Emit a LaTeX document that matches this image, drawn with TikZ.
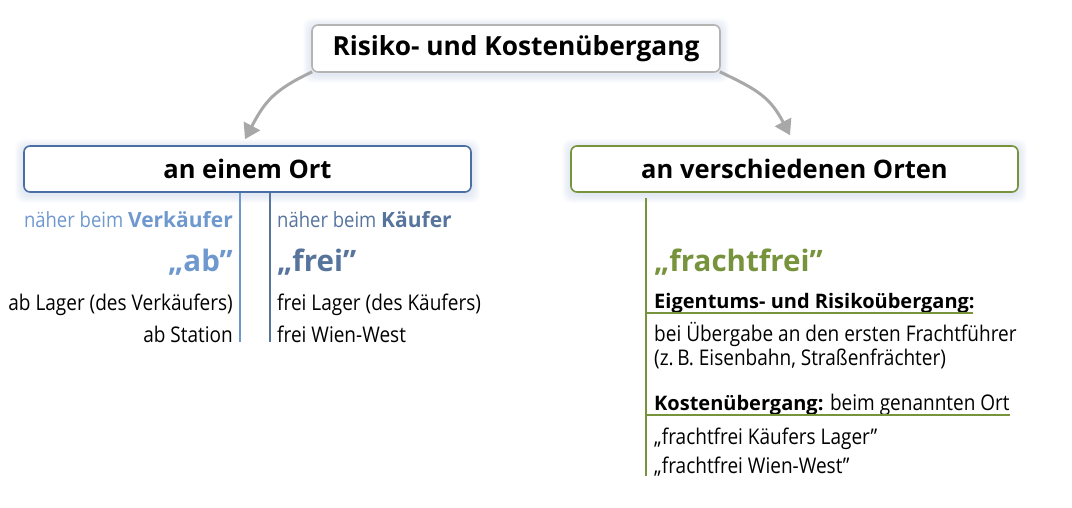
\documentclass[tikz,border=0pt]{standalone}
\usepackage{fontspec}
\setmainfont{Open Sans}[UprightFeatures={FakeStretch=0.88}]
\usetikzlibrary{arrows.meta,backgrounds}
\definecolor{lb}{HTML}{6F98CF}
\definecolor{sb}{HTML}{56749C}
\definecolor{bb}{HTML}{4A6FA5}
\definecolor{gr}{HTML}{77933C}
\definecolor{ag}{HTML}{A8A8A8}
\definecolor{tg}{HTML}{B4B4B4}
\definecolor{shc}{HTML}{9DB3D6}
\newcommand{\glow}[1]{%
  \begin{scope}[on background layer]
    \foreach \k in {1,...,8}{%
      \fill[shc, opacity=0.04, rounded corners=8pt]
        ([xshift=-\k pt, yshift=-\k pt-2pt]#1.south west) rectangle
        ([xshift=\k pt, yshift=\k pt-2pt]#1.north east);}
  \end{scope}}
\begin{document}
\begin{tikzpicture}[x=1pt,y=-1pt,
  box/.style={draw, line width=1.6pt, rounded corners=6pt, fill=white, inner sep=0pt},
  boxtxt/.style={font=\fontsize{25.5}{30}\selectfont\bfseries},
  txt/.style={inner sep=0pt, font=\fontsize{21.6}{25}\selectfont},
  btxt/.style={inner sep=0pt, font=\fontsize{20}{25}\selectfont\bfseries},
  head/.style={inner sep=0pt, font=\fontsize{21}{25}\selectfont},
  big/.style={inner sep=0pt, font=\fontsize{29.5}{34}\selectfont\bfseries},
  arr/.style={draw=ag, line width=3pt, -{Triangle[length=15pt,width=18pt]}},
  ln/.style={line width=2pt}
]
\useasboundingbox (0,0) rectangle (1072,508);
% boxes
\node[box, draw=tg, minimum width=408pt, minimum height=47pt, font=\fontsize{26.3}{30}\selectfont\bfseries] (top) at (516,48.5) {Risiko- und Kostenübergang};
\node[box, draw=bb, minimum width=447pt, minimum height=46pt, boxtxt] (left) at (247.5,169) {an einem Ort};
\node[box, draw=gr, minimum width=447pt, minimum height=46pt, boxtxt] (right) at (794.5,169) {an verschiedenen Orten};
\glow{top}
\glow{left}
\glow{right}
% arrows
\draw[arr] ([xshift=1pt,yshift=1pt]top.south west) .. controls +(-38,18) and +(20,-38) .. ([xshift=-2.5pt,yshift=6pt]left.north);
\draw[arr] ([xshift=-1pt,yshift=1pt]top.south east) .. controls +(38,18) and +(-20,-38) .. ([xshift=-4.5pt,yshift=10pt]right.north);
% left column lines
\coordinate (l1) at (240,342);
\coordinate (l2) at (270,342);
\draw[ln, draw=lb] (left.south -| l1) -- (l1);
\draw[ln, draw=sb] (left.south -| l2) -- (l2);
% left column text
\node[head, anchor=base east, text=lb] (nv) at (233,228) {näher beim \textbf{Verkäufer}};
\node[big, anchor=base east, text=lb] (ab) at (233,272) {„ab”};
\node[txt, anchor=base east] (ab1) at (233,310) {ab Lager (des Verkäufers)};
\node[txt, anchor=base east] (ab2) at (233,342) {ab Station};
% right of left column
\node[head, anchor=base west, text=sb] (nk) at (277,228) {näher beim \textbf{Käufer}};
\node[big, anchor=base west, text=sb] (frei) at (277,272) {„frei”};
\node[txt, anchor=base west] (fr1) at (277,310) {frei Lager (des Käufers)};
\node[txt, anchor=base west] (fr2) at (277,342) {frei Wien-West};
% green column
\coordinate (g1) at (646,476);
\draw[ln, draw=gr] ([yshift=-5pt]right.south -| g1) -- (g1);
\node[big, anchor=base west, text=gr] (ff) at (654,272) {„frachtfrei”};
\node[btxt, anchor=base west] (eig) at (654,308) {Eigentums- und Risikoübergang:};
\coordinate (u1) at (973,313);
\draw[line width=2pt, draw=gr] (g1 |- u1) -- (u1);
\node[txt, anchor=base west] (bei) at (654,341) {bei Übergabe an den ersten Frachtführer};
\node[txt, anchor=base west] (zb) at (654,365) {(z.\,B. Eisenbahn, Straßenfrächter)};
\node[txt, anchor=base west] (kost) at (654,410) {{\fontsize{20}{25}\selectfont\bfseries Kostenübergang:} beim genannten Ort};
\coordinate (u2) at (1010,415);
\draw[line width=2pt, draw=gr] (g1 |- u2) -- (u2);
\node[txt, anchor=base west] (q1) at (654,444) {„frachtfrei Käufers Lager”};
\node[txt, anchor=base west] (q2) at (654,473) {„frachtfrei Wien-West”};
\end{tikzpicture}
\end{document}
